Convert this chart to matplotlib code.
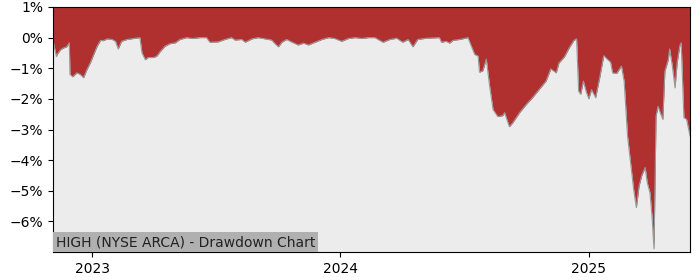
import matplotlib
matplotlib.use("Agg")
import matplotlib.pyplot as plt
import matplotlib.dates as mdates
from matplotlib.ticker import FuncFormatter
import pandas as pd

dates = [
    "2022-11-04", "2022-11-09", "2022-11-10", "2022-11-15", "2022-11-19", "2022-11-24",
    "2022-11-28", "2022-11-29", "2022-12-03", "2022-12-09", "2022-12-14", "2022-12-19",
    "2022-12-24", "2022-12-29", "2023-01-03", "2023-01-08", "2023-01-13", "2023-01-17",
    "2023-01-23", "2023-01-30", "2023-02-04", "2023-02-08", "2023-02-13", "2023-02-21",
    "2023-03-02", "2023-03-12", "2023-03-15", "2023-03-20", "2023-03-24", "2023-04-01",
    "2023-04-06", "2023-04-11", "2023-04-18", "2023-04-25", "2023-05-03", "2023-05-10",
    "2023-05-20", "2023-05-29", "2023-06-08", "2023-06-18", "2023-06-23", "2023-07-05",
    "2023-07-15", "2023-07-25", "2023-07-30", "2023-08-09", "2023-08-14", "2023-08-24",
    "2023-09-02", "2023-09-12", "2023-09-22", "2023-09-27", "2023-10-02", "2023-10-07",
    "2023-10-14", "2023-10-22", "2023-10-31", "2023-11-08", "2023-11-15", "2023-11-25",
    "2023-12-05", "2023-12-15", "2023-12-24", "2024-01-03", "2024-01-13", "2024-01-23",
    "2024-02-02", "2024-02-11", "2024-02-21", "2024-02-28", "2024-03-04", "2024-03-14",
    "2024-03-24", "2024-04-02", "2024-04-10", "2024-04-17", "2024-04-24", "2024-05-07",
    "2024-05-26", "2024-05-29", "2024-06-05", "2024-06-10", "2024-06-15", "2024-06-25",
    "2024-07-07", "2024-07-12", "2024-07-17", "2024-07-22", "2024-07-24", "2024-07-29",
    "2024-08-03", "2024-08-08", "2024-08-13", "2024-08-20", "2024-08-27", "2024-08-30",
    "2024-09-06", "2024-09-11", "2024-09-21", "2024-10-01", "2024-10-10", "2024-10-20",
    "2024-10-30", "2024-11-06", "2024-11-14", "2024-11-18", "2024-11-26", "2024-12-03",
    "2024-12-10", "2024-12-14", "2024-12-17", "2024-12-20", "2024-12-24", "2024-12-28",
    "2025-01-01", "2025-01-05", "2025-01-11", "2025-01-17", "2025-01-23", "2025-01-29",
    "2025-02-02", "2025-02-05", "2025-02-11", "2025-02-18", "2025-02-22", "2025-02-27",
    "2025-03-04", "2025-03-08", "2025-03-12", "2025-03-16", "2025-03-20", "2025-03-25",
    "2025-03-28", "2025-04-01", "2025-04-04", "2025-04-07", "2025-04-10", "2025-04-13",
    "2025-04-17", "2025-04-20", "2025-04-23", "2025-04-28", "2025-04-30", "2025-05-04",
    "2025-05-08", "2025-05-11", "2025-05-15", "2025-05-17", "2025-05-21", "2025-05-25",
    "2025-05-30",
]

drawdown = [
    -0.10, -0.62, -0.55, -0.40, -0.34, -0.30,
    -0.17, -1.20, -1.28, -1.15, -1.20, -1.31,
    -1.04, -0.82, -0.55, -0.28, -0.09, -0.10,
    -0.04, -0.06, -0.12, -0.37, -0.12, -0.06,
    -0.03, 0.00, -0.50, -0.72, -0.65, -0.65,
    -0.60, -0.45, -0.28, -0.20, -0.17, -0.06,
    0.00, -0.03, 0.00, 0.00, -0.15, -0.14,
    -0.06, 0.00, -0.08, -0.06, -0.15, -0.04,
    0.00, -0.04, -0.08, -0.20, -0.30, -0.15,
    -0.06, -0.15, -0.24, -0.18, -0.24, -0.15,
    -0.06, 0.00, -0.03, -0.12, -0.03, 0.00,
    -0.03, 0.00, 0.00, -0.09, -0.15, -0.06,
    -0.02, -0.15, -0.06, -0.30, -0.06, -0.02,
    0.00, -0.15, -0.12, -0.18, -0.09, -0.06,
    0.00, -0.28, -0.55, -0.60, -1.13, -1.08,
    -0.70, -1.59, -2.35, -2.58, -2.55, -2.45,
    -2.91, -2.78, -2.45, -2.18, -1.96, -1.69,
    -1.42, -1.02, -1.15, -0.83, -0.63, -0.34,
    -0.09, -0.04, -1.75, -1.85, -1.42, -1.75,
    -2.00, -1.70, -1.96, -1.31, -0.59, -0.72,
    -0.80, -1.15, -1.17, -0.93, -1.42, -3.21,
    -4.19, -4.95, -5.55, -4.84, -4.50, -4.24,
    -4.73, -5.06, -5.82, -6.90, -2.56, -2.24,
    -2.50, -2.67, -1.10, -0.72, -0.37, -0.93,
    -1.64, -0.83, -0.26, -0.17, -2.61, -2.67,
    -3.21,
]

title = "HIGH (NYSE ARCA) - Drawdown Chart"

x = pd.to_datetime(dates)

fig = plt.figure(figsize=(7, 2.8), dpi=100)
ax = fig.add_axes([53 / 700, 1 - 252 / 280, (690 - 53) / 700, (252 - 7) / 280])
ax.set_facecolor("#ececec")

ax.fill_between(x, drawdown, 1, color="#b03030", linewidth=0)
ax.plot(x, drawdown, color="#999999", linewidth=0.8)

ax.set_xlim(x[0], x[-1])
ax.set_ylim(-7, 1)
ax.set_yticks([1, 0, -1, -2, -3, -4, -5, -6])
ax.yaxis.set_major_formatter(FuncFormatter(lambda v, p: f"{int(v)}%".replace("-", "\u2212")))
ax.xaxis.set_major_locator(mdates.YearLocator())
ax.xaxis.set_major_formatter(mdates.DateFormatter("%Y"))

ax.text(0.004, 0.012, title, transform=ax.transAxes, fontsize=10, color="#222222",
        ha="left", va="bottom",
        bbox=dict(facecolor="#b0b0b0", edgecolor="none", pad=2))

fig.savefig("out.png", dpi=100)
